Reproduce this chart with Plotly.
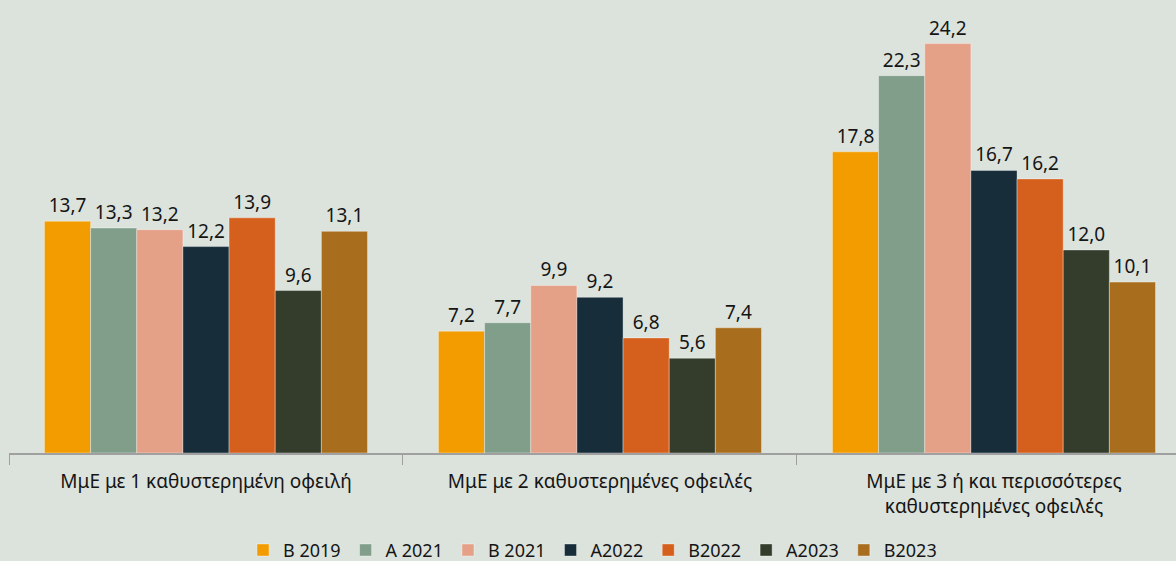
import plotly.graph_objects as go

categories = ["ΜμΕ με 1 καθυστερημένη οφειλή",
              "ΜμΕ με 2 καθυστερημένες οφειλές",
              "ΜμΕ με 3 ή και περισσότερες<br>καθυστερημένες οφειλές"]
series_names = ["B 2019", "A 2021", "B 2021", "A2022", "B2022", "A2023", "B2023"]
b2019 = [13.7, 7.2, 17.8]
a2021 = [13.3, 7.7, 22.3]
b2021 = [13.2, 9.9, 24.2]
a2022 = [12.2, 9.2, 16.7]
b2022 = [13.9, 6.8, 16.2]
a2023 = [9.6, 5.6, 12.0]
b2023 = [13.1, 7.4, 10.1]
series_values = [b2019, a2021, b2021, a2022, b2022, a2023, b2023]
colors = ["#F39C00", "#819E8A", "#E5A088", "#172E3A", "#D55F1C", "#343D2B", "#A86E1E"]

bg = "#DCE3DC"
FONT = "Noto Sans"
fig = go.Figure()
for name, vals, col in zip(series_names, series_values, colors):
    fig.add_trace(go.Bar(
        name=name, x=categories, y=vals,
        marker=dict(color=col, line=dict(color="rgba(255,255,255,0.35)", width=1)),
        text=[f"{v:.1f}".replace(".", ",") for v in vals],
        textposition="outside", textangle=0, cliponaxis=False,
        textfont=dict(size=19, color="#151515", family=FONT),
    ))

fig.update_layout(
    width=1176, height=561,
    paper_bgcolor=bg, plot_bgcolor=bg,
    barmode="group", bargap=0.18, bargroupgap=0,
    margin=dict(l=9, r=0, t=30, b=108, autoexpand=False),
    font=dict(family=FONT, size=17, color="#151515"),
    showlegend=True,
    legend=dict(orientation="h", x=0.5, xanchor="center", y=-0.23, yanchor="middle",
                font=dict(size=18, color="#151515"), itemwidth=30, traceorder="normal",
                bgcolor="rgba(0,0,0,0)"),
)
fig.update_xaxes(range=[-0.5, 2.462], showline=True, linecolor="#A0A0A0", linewidth=2,
                 ticks="outside", tickson="boundaries", ticklen=10, tickcolor="#A0A0A0",
                 tickwidth=1, tickfont=dict(size=19, color="#151515", family=FONT), showgrid=False,
                 automargin=False, ticklabelstandoff=10)
fig.update_yaxes(range=[0, 25], visible=False, showgrid=False, zeroline=False)

fig.write_html("out.html", config={"displayModeBar": False},
               post_script="document.body.style.margin='0';")
